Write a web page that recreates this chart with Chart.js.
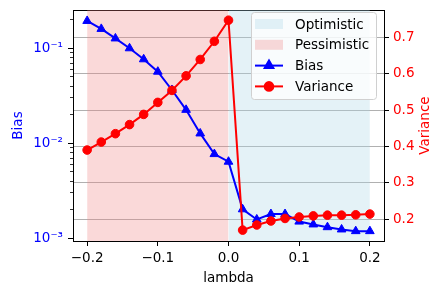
<!DOCTYPE html>
<html>
<head>
<meta charset="utf-8">
<script src="https://cdn.jsdelivr.net/npm/chart.js@4.4.1/dist/chart.umd.min.js"></script>
<style>
    html, body { margin: 0; padding: 0; background: #fff; }
</style>
</head>
<body>
<canvas id="biasVarianceChart" width="443" height="294"></canvas>
<script>
((document) => {
    'use strict';

    // Data
    const lambdas = [-0.2, -0.18, -0.16, -0.14, -0.12, -0.1, -0.08, -0.06, -0.04, -0.02,
        0, 0.02, 0.04, 0.06, 0.08, 0.1, 0.12, 0.14, 0.16, 0.18, 0.2];
    const bias = [0.194, 0.160, 0.127, 0.100, 0.0766, 0.0567, 0.0364, 0.0225, 0.0127, 0.0077,
        0.0064, 0.00202, 0.00158, 0.0018, 0.0018, 0.0015, 0.0014, 0.00131, 0.00124, 0.00119, 0.00119];
    const variance = [0.390, 0.412, 0.435, 0.460, 0.488, 0.521, 0.554, 0.594, 0.639, 0.689,
        0.747, 0.170, 0.184, 0.195, 0.202, 0.206, 0.209, 0.211, 0.211, 0.212, 0.214];

    // Shaded regions (lambda ranges)
    const pessimisticRange = [-0.2, 0];
    const optimisticRange = [0, 0.2];

    // Tick values
    const xTicks = [-0.2, -0.1, 0, 0.1, 0.2];
    const biasTicks = [0.001, 0.01, 0.1];
    const varianceTicks = [0.2, 0.3, 0.4, 0.5, 0.6, 0.7];

    // Axis limits
    const xLimits = [-0.22, 0.22];
    const biasLimits = [0.000937, 0.2529];
    const varianceLimits = [0.14, 0.775];

    const BLUE = '#0000ff';
    const RED = '#ff0000';
    const FONT_SIZE = 13.5;
    const FONT = FONT_SIZE + "px 'DejaVu Sans'";

    Chart.defaults.font.family = "'DejaVu Sans', sans-serif";
    Chart.defaults.font.size = FONT_SIZE;
    Chart.defaults.color = '#000';

    // Minor tick positions for the log axis
    let biasMinorTicks = [];
    for (let e = -3; e <= -1; e++) {
        for (let m = 2; m <= 9; m++) {
            let v = m * Math.pow(10, e);
            if (v <= biasLimits[1]) biasMinorTicks.push(v);
        }
    }

    function superscript(n) {
        const map = {'-': '\u207B', '0': '\u2070', '1': '\u00B9', '2': '\u00B2', '3': '\u00B3',
            '4': '\u2074', '5': '\u2075', '6': '\u2076', '7': '\u2077', '8': '\u2078', '9': '\u2079'};
        return String(n).split('').map(c => map[c]).join('');
    }

    function toPoints(xs, ys) {
        return xs.map((x, i) => ({x: x, y: ys[i]}));
    }

    function regionPoints(range) {
        return range.map(x => ({x: x, y: varianceLimits[1]}));
    }

    // Keep vertical axes from padding the chart area
    function fitVertical(width) {
        return s => {
            s.width = width;
            s.paddingTop = 0;
            s.paddingBottom = 0;
        };
    }

    // Matplotlib-like legend inside the plot, plus the right axis title
    const insideLegend = {
        id: 'insideLegend',
        afterDatasetsDraw(chart) {
            const ctx = chart.ctx;
            const area = chart.chartArea;
            const items = chart.data.datasets;
            const boxW = 125, boxH = 87;
            const left = area.right - 133;
            const top = area.top + 2;
            const rowH = 20.8;

            ctx.save();
            ctx.beginPath();
            ctx.roundRect(left + 0.5, top + 0.5, boxW, boxH, 3);
            ctx.fillStyle = 'rgba(255,255,255,0.8)';
            ctx.fill();
            ctx.strokeStyle = '#d0d0d0';
            ctx.lineWidth = 1;
            ctx.stroke();

            ctx.font = FONT;
            ctx.textBaseline = 'middle';
            ctx.textAlign = 'left';

            items.forEach((ds, i) => {
                let cy = top + 12 + i * rowH;
                let hx0 = left + 4, hx1 = left + 32;
                if (ds.legendKind === 'patch') {
                    ctx.fillStyle = ds.backgroundColor;
                    ctx.fillRect(hx0, cy - 5, hx1 - hx0, 10);
                } else {
                    ctx.strokeStyle = ds.borderColor;
                    ctx.lineWidth = 2;
                    ctx.beginPath();
                    ctx.moveTo(hx0, cy);
                    ctx.lineTo(hx1, cy);
                    ctx.stroke();
                    Chart.helpers.drawPoint(ctx, {
                        pointStyle: ds.pointStyle,
                        radius: ds.pointRadius,
                        borderWidth: 1,
                        rotation: 0
                    }, (hx0 + hx1) / 2, cy);
                    ctx.fillStyle = ds.pointBackgroundColor;
                    ctx.fill();
                }
                ctx.fillStyle = '#000';
                ctx.fillText(ds.label, left + 44, cy + 1);
            });
            ctx.restore();
        },
        afterDraw(chart) {
            // Right axis title reads bottom-to-top like matplotlib
            const ctx = chart.ctx;
            const area = chart.chartArea;
            ctx.save();
            ctx.translate(chart.width - 18, (area.top + area.bottom) / 2);
            ctx.rotate(-Math.PI / 2);
            ctx.font = FONT;
            ctx.fillStyle = RED;
            ctx.textAlign = 'center';
            ctx.textBaseline = 'middle';
            ctx.fillText('Variance', 0, 0);
            ctx.restore();
        }
    };

    const data = {
        datasets: [{
            label: 'Optimistic',
            legendKind: 'patch',
            data: regionPoints(optimisticRange),
            yAxisID: 'y1',
            fill: 'start',
            backgroundColor: 'rgba(173,216,230,0.33)',
            borderColor: 'transparent',
            borderWidth: 0,
            pointRadius: 0,
            order: 3
        }, {
            label: 'Pessimistic',
            legendKind: 'patch',
            data: regionPoints(pessimisticRange),
            yAxisID: 'y1',
            fill: 'start',
            backgroundColor: 'rgba(240,128,128,0.3)',
            borderColor: 'transparent',
            borderWidth: 0,
            pointRadius: 0,
            order: 3
        }, {
            label: 'Bias',
            legendKind: 'line',
            data: toPoints(lambdas, bias),
            yAxisID: 'y',
            borderColor: BLUE,
            backgroundColor: BLUE,
            pointBackgroundColor: BLUE,
            pointBorderColor: BLUE,
            borderWidth: 2,
            pointStyle: 'triangle',
            pointRadius: 5,
            pointBorderWidth: 1,
            order: 1
        }, {
            label: 'Variance',
            legendKind: 'line',
            data: toPoints(lambdas, variance),
            yAxisID: 'y1',
            borderColor: RED,
            backgroundColor: RED,
            pointBackgroundColor: RED,
            pointBorderColor: RED,
            borderWidth: 2,
            pointStyle: 'circle',
            pointRadius: 4.3,
            pointBorderWidth: 1,
            order: 0
        }]
    };

    const config = {
        type: 'line',
        data: data,
        plugins: [insideLegend],
        options: {
            responsive: false,
            animation: false,
            events: [],
            devicePixelRatio: 1,
            layout: {padding: {top: 10, left: 0, right: 0, bottom: 0}},
            plugins: {
                legend: {display: false},
                tooltip: {enabled: false}
            },
            elements: {line: {tension: 0}},
            scales: {
                x: {
                    type: 'linear',
                    position: 'bottom',
                    min: xLimits[0],
                    max: xLimits[1],
                    afterBuildTicks: s => { s.ticks = xTicks.map(v => ({value: v})); },
                    afterFit: s => { s.height = 53; s.paddingLeft = 0; s.paddingRight = 0; },
                    ticks: {
                        padding: 4,
                        maxRotation: 0,
                        callback: v => (v < 0 ? '\u2212' : '') + Math.abs(v).toFixed(1)
                    },
                    grid: {drawOnChartArea: false, tickLength: 5, tickColor: '#000', tickWidth: 1},
                    border: {color: '#000', width: 1},
                    title: {display: true, text: 'lambda', padding: {top: 0, bottom: 7}}
                },
                xTop: {
                    type: 'linear',
                    position: 'top',
                    min: xLimits[0],
                    max: xLimits[1],
                    afterFit: s => { s.height = 0; s.paddingLeft = 0; s.paddingRight = 0; },
                    ticks: {display: false},
                    grid: {display: false, drawTicks: false},
                    border: {display: true, color: '#000', width: 1}
                },
                y: {
                    type: 'logarithmic',
                    position: 'left',
                    weight: 2,
                    min: biasLimits[0],
                    max: biasLimits[1],
                    afterBuildTicks: s => { s.ticks = biasTicks.map(v => ({value: v})); },
                    afterFit: fitVertical(73),
                    ticks: {
                        color: BLUE,
                        padding: 5,
                        callback: v => '10' + superscript(Math.round(Math.log10(v)))
                    },
                    grid: {drawOnChartArea: false, tickLength: 5, tickColor: '#000', tickWidth: 1},
                    border: {color: '#000', width: 1},
                    title: {display: true, text: 'Bias', color: BLUE, padding: {top: 10, bottom: 0}}
                },
                yMinor: {
                    type: 'logarithmic',
                    position: 'left',
                    weight: 1,
                    min: biasLimits[0],
                    max: biasLimits[1],
                    afterBuildTicks: s => { s.ticks = biasMinorTicks.map(v => ({value: v})); },
                    afterFit: fitVertical(0),
                    ticks: {display: false},
                    grid: {drawOnChartArea: false, tickLength: 3, tickColor: '#000', tickWidth: 0.8},
                    border: {display: false}
                },
                y1: {
                    type: 'linear',
                    position: 'right',
                    min: varianceLimits[0],
                    max: varianceLimits[1],
                    afterBuildTicks: s => { s.ticks = varianceTicks.map(v => ({value: v})); },
                    afterFit: fitVertical(59),
                    ticks: {
                        color: RED,
                        padding: 4,
                        callback: v => v.toFixed(1)
                    },
                    grid: {
                        drawOnChartArea: true,
                        color: '#b0b0b0',
                        lineWidth: 1,
                        tickLength: 5,
                        tickColor: '#000',
                        tickWidth: 1
                    },
                    border: {color: '#000', width: 1},
                    title: {display: false}
                }
            }
        }
    };

    // Draw Chart
    new Chart(document.getElementById('biasVarianceChart'), config);
})(document);
</script>
</body>
</html>
